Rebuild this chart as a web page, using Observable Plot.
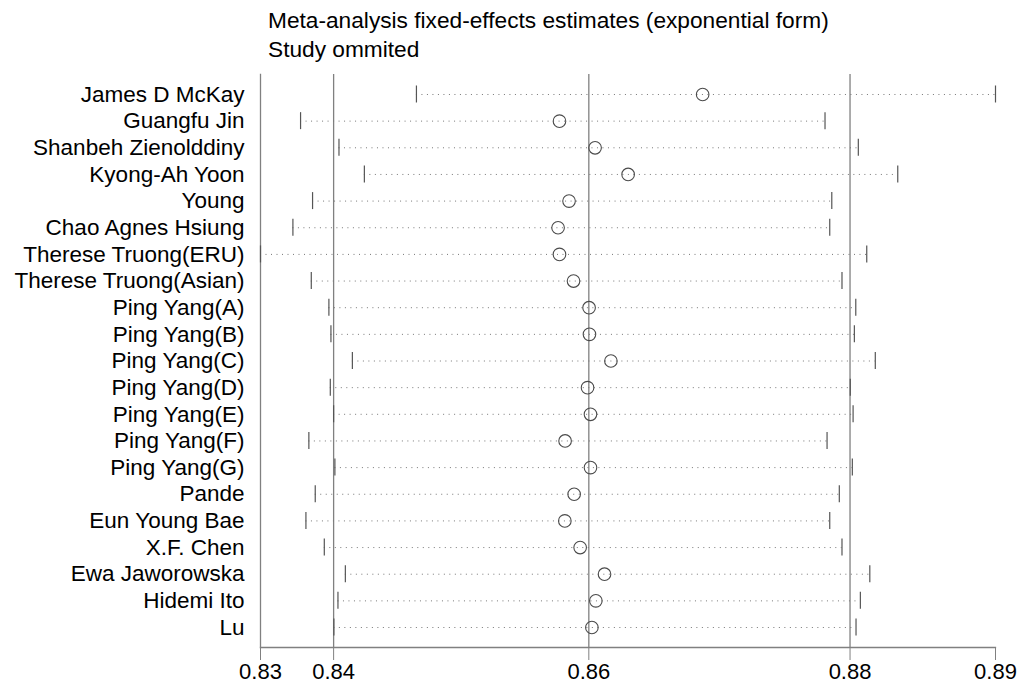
<!DOCTYPE html>
<html>
<head>
<meta charset="utf-8">
<script src="https://cdn.jsdelivr.net/npm/d3@7"></script>
<script src="https://cdn.jsdelivr.net/npm/@observablehq/plot@0.6"></script>
<style>
  html, body { margin: 0; padding: 0; background: #fff; }
  #title {
    height: 64px; box-sizing: border-box; padding: 6px 0 0 268px;
    font-family: "Liberation Sans", Arial, sans-serif; font-size: 22.7px; line-height: 29px; color: #000;
  }
</style>
</head>
<body>
<div id="title">Meta-analysis fixed-effects estimates (exponential form)<br>Study ommited</div>
<div id="chart"></div>
<script>
const studies = ["James D McKay","Guangfu Jin","Shanbeh Zienolddiny","Kyong-Ah Yoon","Young","Chao Agnes Hsiung","Therese Truong(ERU)","Therese Truong(Asian)","Ping Yang(A)","Ping Yang(B)","Ping Yang(C)","Ping Yang(D)","Ping Yang(E)","Ping Yang(F)","Ping Yang(G)","Pande","Eun Young Bae","X.F. Chen","Ewa Jaworowska","Hidemi Ito","Lu"];
const estimate = [0.86892,0.85770,0.86049,0.86308,0.85845,0.85759,0.85770,0.85880,0.86002,0.86005,0.86173,0.85990,0.86013,0.85814,0.86013,0.85885,0.85812,0.85932,0.86123,0.86055,0.86024];
const lower    = [0.84649,0.83741,0.84042,0.84241,0.83835,0.83681,0.83427,0.83825,0.83963,0.83979,0.84147,0.83974,0.84000,0.83806,0.84010,0.83856,0.83783,0.83927,0.84092,0.84034,0.84002];
const upper    = [0.89187,0.87851,0.88112,0.88421,0.87904,0.87888,0.88178,0.87984,0.88092,0.88081,0.88245,0.88049,0.88071,0.87867,0.88065,0.87963,0.87888,0.87984,0.88202,0.88128,0.88094];
const overall  = [0.84000, 0.86000, 0.88047]; // lower CI, estimate, upper CI
const xTicks   = [d3.min(lower), overall[0], overall[1], overall[2], d3.max(upper)];

const rows = studies.map((s, i) => ({study: s, est: estimate[i], lo: lower[i], hi: upper[i]}));
const grey = "#808080";
const dark = "#555";

const chart = Plot.plot({
  width: 1025,
  height: 620,
  marginLeft: 260,
  marginRight: 30,
  marginTop: 10,
  marginBottom: 37,
  style: {fontFamily: '"Liberation Sans", Arial, sans-serif', fontSize: "22px", color: "#000", background: "#fff"},
  x: {domain: [d3.min(lower), d3.max(upper)]},
  y: {type: "band", domain: studies, paddingInner: 0.362, paddingOuter: 0.431, round: false},
  marks: [
    Plot.ruleX(overall, {x: d => d, stroke: grey, strokeWidth: 1.3}),
    Plot.frame({anchor: "left", stroke: grey, strokeWidth: 1.3}),
    Plot.frame({anchor: "bottom", stroke: grey, strokeWidth: 1.3}),
    Plot.ruleY(rows, {y: "study", x1: "lo", x2: "hi", stroke: "#777", strokeWidth: 1, strokeDasharray: "1,4.5"}),
    Plot.tickX(rows, {y: "study", x: "lo", stroke: dark, strokeWidth: 1.2}),
    Plot.tickX(rows, {y: "study", x: "hi", stroke: dark, strokeWidth: 1.2}),
    Plot.dot(rows, {y: "study", x: "est", r: 6.3, stroke: "#4a4a4a", strokeWidth: 1.1, fill: "none"}),
    Plot.axisX({ticks: xTicks, tickFormat: d3.format(".2f"), tickSize: 13, tickPadding: 3, label: null, stroke: grey, fontSize: 22, fill: "#000"}),
    Plot.axisY({tickSize: 0, tickPadding: 16, label: null, fontSize: 22.5, fill: "#000"})
  ]
});
document.getElementById("chart").appendChild(chart);
</script>
</body>
</html>
